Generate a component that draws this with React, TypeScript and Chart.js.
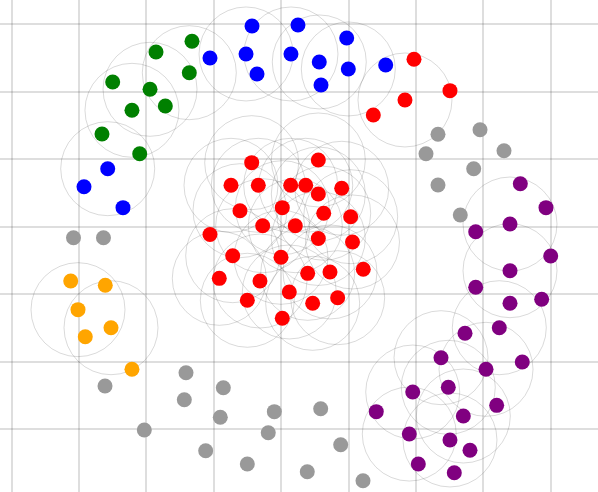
import React, { useEffect, useRef } from "react";
import { Chart, registerables } from "chart.js";

Chart.register(...registerables);

// Cluster points [x, y]
const bluePoints: [number, number][] = [
  [3.567, 5.97], [4.249, 5.985], [2.943, 5.497], [3.478, 5.556], [3.641, 5.26],
  [4.145, 5.556], [4.972, 5.793], [4.565, 5.438], [4.996, 5.334], [4.591, 5.097],
  [5.551, 5.393], [1.425, 3.858], [1.073, 3.591], [1.652, 3.281],
];
const blueCore = [3, 5, 7, 8, 11];

const greenPoints: [number, number][] = [
  [2.676, 5.744], [2.142, 5.586], [2.636, 5.279], [1.499, 5.141], [2.053, 5.033],
  [1.785, 4.722], [2.28, 4.786], [1.34, 4.372], [1.9, 4.08],
];
const greenCore = [2, 4, 5];

const redTopPoints: [number, number][] = [
  [5.971, 5.477], [6.505, 5.013], [5.837, 4.875], [5.367, 4.653],
];
const redTopCore = [2];

const orangePoints: [number, number][] = [
  [0.876, 2.195], [1.389, 2.132], [0.984, 1.771], [1.474, 1.504], [1.092, 1.371], [1.785, 0.888],
];
const orangeCore = [2, 3];

const purplePoints: [number, number][] = [
  [7.549, 3.636], [7.93, 3.281], [7.396, 3.039], [6.887, 2.925], [8.0, 2.566],
  [7.396, 2.348], [6.887, 2.102], [7.396, 1.865], [7.866, 1.925], [7.237, 1.504],
  [6.728, 1.421], [6.372, 1.06], [7.04, 0.888], [7.578, 0.996], [6.48, 0.622],
  [5.952, 0.552], [7.198, 0.355], [6.703, 0.197], [5.411, 0.261], [5.901, -0.07],
  [6.505, -0.158], [6.802, -0.311], [6.035, -0.514], [6.569, -0.643],
];
const purpleCore = [2, 5, 9, 11, 12, 14, 15, 17, 19, 20];

const redCenterPoints: [number, number][] = [
  [3.562, 3.947], [4.551, 3.987], [3.255, 3.612], [3.66, 3.612], [4.141, 3.612],
  [4.364, 3.612], [4.898, 3.568], [4.551, 3.483], [3.388, 3.236], [4.016, 3.281],
  [4.631, 3.198], [5.031, 3.147], [3.725, 3.014], [4.209, 3.014], [2.943, 2.884],
  [4.551, 2.825], [5.058, 2.773], [3.28, 2.57], [3.997, 2.546], [3.081, 2.235],
  [3.685, 2.195], [4.393, 2.309], [4.724, 2.329], [5.218, 2.369], [4.12, 2.033],
  [3.497, 1.91], [4.467, 1.865], [4.838, 1.948], [4.016, 1.643],
];
const redCenterCore = [0, 1, 2, 3, 4, 5, 6, 7, 8, 9, 10, 11, 12, 13, 15, 16, 17, 18, 19, 20, 21, 22, 24, 25, 26, 27];

const grayPoints: [number, number][] = [
  [0.917, 2.836], [1.362, 2.836],
  [6.327, 4.367], [6.951, 4.435], [6.149, 4.08], [7.307, 4.124], [6.857, 3.858],
  [6.327, 3.617], [6.658, 3.172],
  [1.385, 0.641], [2.587, 0.838], [3.141, 0.616], [2.562, 0.438], [3.096, 0.178],
  [3.898, 0.261], [1.968, -0.01], [3.808, -0.05], [2.879, -0.317], [3.497, -0.514],
  [4.586, 0.305], [4.883, -0.228], [4.387, -0.628], [5.214, -0.761],
];

const xMin = -0.1737;
const xMax = 8.702;
const yMin = -0.928;
const yMax = 6.355;

const toXY = (p: [number, number]) => ({ x: p[0], y: p[1] });

const clusters: { pts: [number, number][]; core: number[]; color: string }[] = [
  { pts: redCenterPoints, core: redCenterCore, color: "red" },
  { pts: bluePoints, core: blueCore, color: "blue" },
  { pts: greenPoints, core: greenCore, color: "green" },
  { pts: redTopPoints, core: redTopCore, color: "red" },
  { pts: orangePoints, core: orangeCore, color: "orange" },
  { pts: purplePoints, core: purpleCore, color: "purple" },
];

export default function App() {
  const ref = useRef<HTMLCanvasElement | null>(null);
  useEffect(() => {
    if (!ref.current) return;
    const circleData = clusters.flatMap((c) => c.core.map((i) => toXY(c.pts[i])));
    const datasets: any[] = [
      {
        data: circleData,
        pointRadius: 47,
        pointHoverRadius: 47,
        backgroundColor: "rgba(0,0,0,0)",
        borderColor: "rgba(0,0,0,0.15)",
        borderWidth: 1,
        order: 10,
      },
      {
        data: grayPoints.map(toXY),
        pointRadius: 7.5,
        backgroundColor: "#999999",
        borderWidth: 0,
        order: 1,
      },
      ...clusters.map((c) => ({
        data: c.pts.map(toXY),
        pointRadius: 7.5,
        backgroundColor: c.color,
        borderWidth: 0,
        order: 1,
      })),
    ];
    const chart = new Chart(ref.current, {
      type: "scatter",
      data: { datasets },
      options: {
        animation: false,
        responsive: false,
        layout: { padding: 0, autoPadding: false },
        plugins: { legend: { display: false }, tooltip: { enabled: false } },
        scales: {
          x: {
            type: "linear",
            min: xMin,
            max: xMax,
            ticks: { display: false, stepSize: 1, includeBounds: false },
            grid: { color: "rgba(0,0,0,0.13)", lineWidth: 2, drawTicks: false },
            border: { display: false },
          },
          y: {
            type: "linear",
            min: yMin,
            max: yMax,
            ticks: { display: false, stepSize: 1, includeBounds: false },
            grid: { color: "rgba(0,0,0,0.13)", lineWidth: 2, drawTicks: false },
            border: { display: false },
          },
        },
      } as any,
    });
    return () => chart.destroy();
  }, []);
  return (
    <div style={{ position: "fixed", left: 0, top: 0, width: 598, height: 492, background: "#fff" }}>
      <canvas ref={ref} width={598} height={492} style={{ display: "block" }} />
    </div>
  );
}
